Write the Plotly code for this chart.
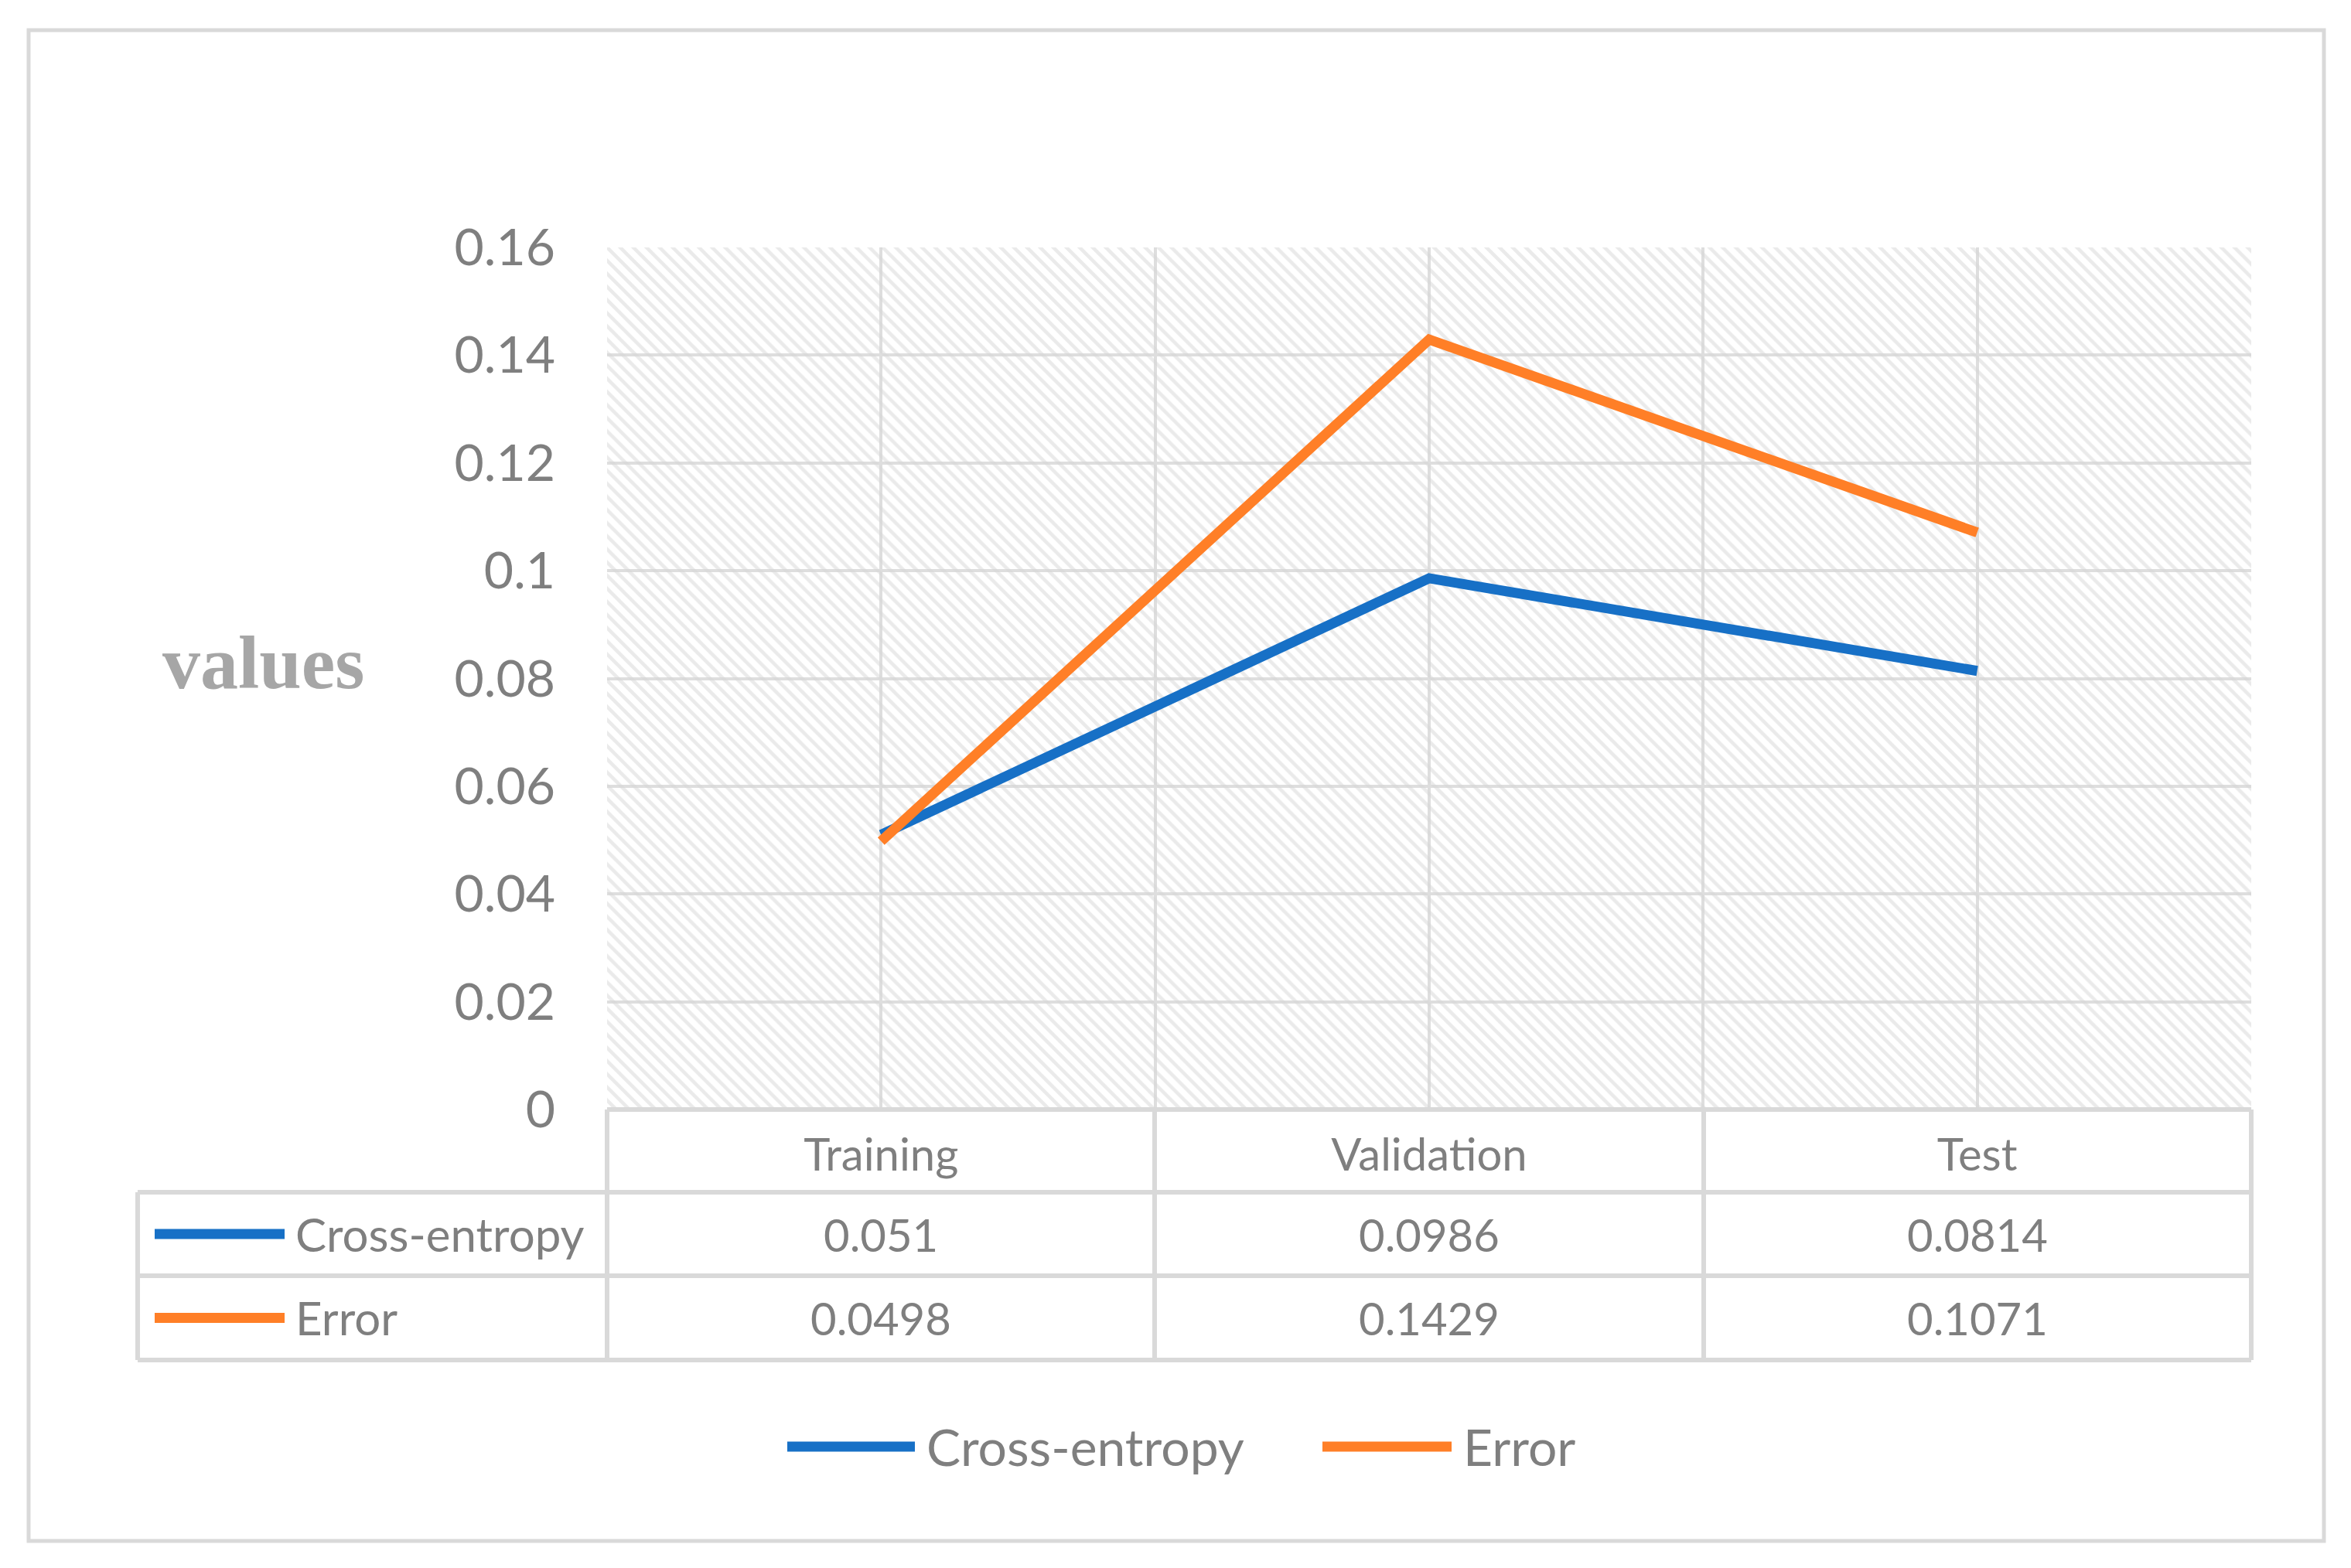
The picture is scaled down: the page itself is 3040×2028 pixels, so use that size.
import plotly.graph_objects as go

# ---- data ----
categories = ["Training", "Validation", "Test"]
cross_entropy = [0.051, 0.0986, 0.0814]
error = [0.0498, 0.1429, 0.1071]
series_names = ["Cross-entropy", "Error"]
value_labels = {
    "Cross-entropy": ["0.051", "0.0986", "0.0814"],
    "Error": ["0.0498", "0.1429", "0.1071"],
}
y_ticks = [0, 0.02, 0.04, 0.06, 0.08, 0.1, 0.12, 0.14, 0.16]
y_tick_labels = ["0", "0.02", "0.04", "0.06", "0.08", "0.1", "0.12", "0.14", "0.16"]
y_title = "values"

# ---- layout geometry (screen pixels; page body has an 8px margin) ----
OFF = 8
W, H = 3040 - 2 * OFF, 2028 - 2 * OFF
L, R, T, B = 785 - OFF, 2911 - OFF, 320 - OFF, 1435 - OFF

def px_x(px):
    return (px - OFF - L) / (R - L)

def px_y(py):
    return (B - (py - OFF)) / (B - T)

BLUE = "#1770C6"
ORANGE = "#FF7F27"
GRAY = "#7f7f7f"
BORDER = "#d9d9d9"
FONT = "Lato"

x_pos = [i + 0.5 for i in range(len(categories))]
ymax = y_ticks[-1]
n = len(categories)

fig = go.Figure()

# hatched plot-area background
fig.add_trace(go.Scatter(
    x=[0, n, n, 0, 0], y=[0, 0, ymax, ymax, 0],
    fill="toself", mode="lines", line=dict(width=0),
    fillcolor="rgba(0,0,0,0)",
    fillpattern=dict(shape="\\", fgcolor="#d6d6d6", bgcolor="rgba(0,0,0,0)",
                     size=12, solidity=0.38),
    hoverinfo="skip", showlegend=False,
))

fig.add_trace(go.Scatter(x=x_pos, y=cross_entropy, mode="lines", name="Cross-entropy",
                         line=dict(color=BLUE, width=13), showlegend=False))
fig.add_trace(go.Scatter(x=x_pos, y=error, mode="lines", name="Error",
                         line=dict(color=ORANGE, width=13), showlegend=False))

shapes = []
def hline(py, x0, x1, color=BORDER, width=6):
    shapes.append(dict(type="line", xref="paper", yref="paper",
                       x0=px_x(x0), x1=px_x(x1), y0=px_y(py), y1=px_y(py),
                       line=dict(color=color, width=width)))

def vline(px, y0, y1, color=BORDER, width=6):
    shapes.append(dict(type="line", xref="paper", yref="paper",
                       x0=px_x(px), x1=px_x(px), y0=px_y(y0), y1=px_y(y1),
                       line=dict(color=color, width=width)))

# outer border
shapes.append(dict(type="rect", xref="paper", yref="paper",
                   x0=px_x(37), x1=px_x(3005), y0=px_y(1993), y1=px_y(39),
                   line=dict(color=BORDER, width=5)))

# data table grid
row_y = [1435, 1542, 1650, 1759]
col_x = [785, 1493, 2203, 2911]
hline(row_y[0], col_x[0], col_x[-1])
for py in row_y[1:]:
    hline(py, 178, col_x[-1])
vline(178, row_y[1], row_y[-1])
for px in col_x:
    vline(px, row_y[0], row_y[-1])

annotations = []
row_centers = [(row_y[1] + row_y[2]) / 2, (row_y[2] + row_y[3]) / 2]
colors = [BLUE, ORANGE]
for name, color, rc in zip(series_names, colors, row_centers):
    hline(rc, 200, 368, color=color, width=13)
    annotations.append(dict(xref="paper", yref="paper", x=px_x(380), y=px_y(rc),
                            text=name, showarrow=False, xanchor="left", yanchor="middle",
                            font=dict(family=FONT, size=60, color=GRAY)))
    for xp, lab in zip(x_pos, value_labels[name]):
        annotations.append(dict(xref="x", yref="paper", x=xp, y=px_y(rc),
                                text=lab, showarrow=False, xanchor="center", yanchor="middle",
                                font=dict(family=FONT, size=58, color=GRAY)))

# bottom legend
leg_y = 1871
legend_items = [(series_names[0], BLUE, 1018, 1183, 1196),
                (series_names[1], ORANGE, 1710, 1877, 1890)]
for name, color, a, b, t in legend_items:
    hline(leg_y, a, b, color=color, width=13)
    annotations.append(dict(xref="paper", yref="paper", x=px_x(t), y=px_y(leg_y),
                            text=name, showarrow=False, xanchor="left", yanchor="middle",
                            font=dict(family=FONT, size=66, color=GRAY)))

# y title
annotations.append(dict(xref="paper", yref="paper", x=px_x(340), y=px_y(857),
                        text="<b>%s</b>" % y_title, showarrow=False,
                        xanchor="center", yanchor="middle",
                        font=dict(family="Liberation Serif", size=98, color="#a6a6a6")))

fig.update_layout(
    width=W, height=H, autosize=False,
    margin=dict(l=L, r=W - R, t=T, b=H - B, pad=0),
    paper_bgcolor="white", plot_bgcolor="white",
    shapes=shapes, annotations=annotations,
    showlegend=False,
    font=dict(family=FONT, color=GRAY),
)
fig.update_xaxes(
    range=[0, n], tickvals=x_pos, ticktext=categories,
    showgrid=True, gridcolor="#dedede", gridwidth=4,
    minor=dict(tickvals=list(range(n + 1)), showgrid=True, gridcolor="#dedede", gridwidth=4),
    zeroline=False, showline=False, ticks="",
    tickfont=dict(family=FONT, size=58, color=GRAY),
    ticklabelstandoff=20, fixedrange=True,
)
fig.update_yaxes(
    range=[0, ymax], tickvals=y_ticks, ticktext=y_tick_labels,
    showgrid=True, gridcolor="#dedede", gridwidth=4,
    zeroline=False, showline=False, ticks="",
    tickfont=dict(family=FONT, size=66, color=GRAY),
    ticklabelstandoff=66, fixedrange=True,
)

fig.write_html("out.html")
